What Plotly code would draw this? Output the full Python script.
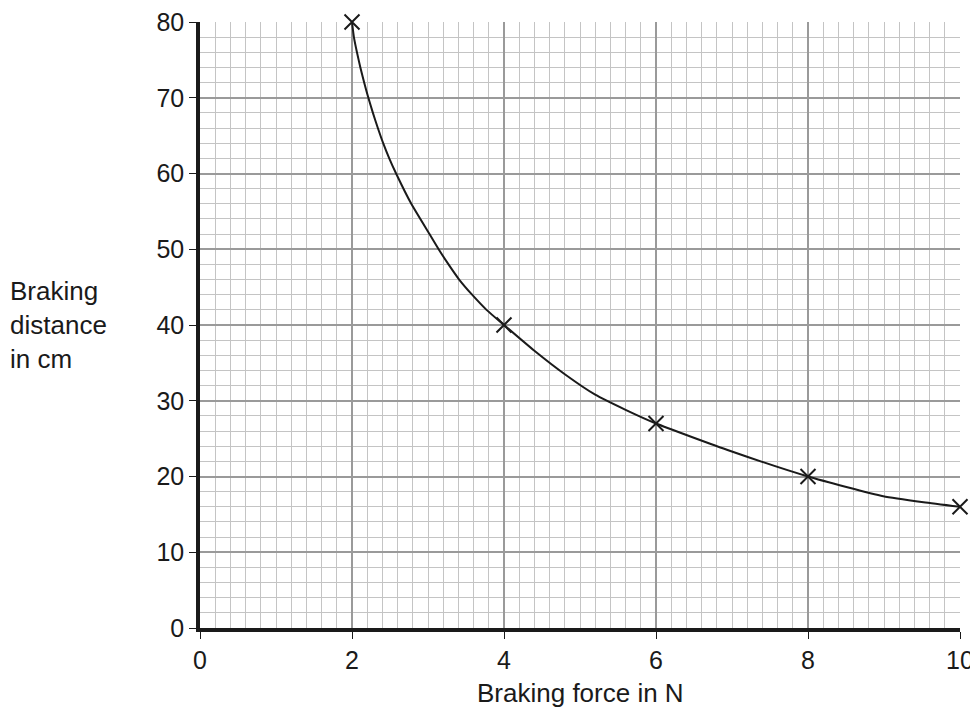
import plotly.graph_objects as go

# Measured points (crosses)
force_pts = [2, 4, 6, 8, 10]
dist_pts = [80, 40, 27, 20, 16]

# Points
curve_force = [2, 2.025, 2.065, 2.11, 2.16, 2.215, 2.275, 2.34, 2.41, 2.49, 2.58, 2.78, 3.02, 3.14,
               3.27, 3.41, 3.58, 3.77, 4, 4.4, 4.8, 5.2, 5.6, 6, 6.97, 8, 8.99, 9.52, 10]
curve_dist = [80, 78, 76, 74, 72, 70, 68, 66, 64, 62, 60, 56, 52, 50,
              48, 46, 44, 42, 40, 36.6, 33.5, 30.8, 28.8, 27, 23.4, 20, 17.4, 16.6, 16]

x_ticks = [0, 2, 4, 6, 8, 10]
y_ticks = [0, 10, 20, 30, 40, 50, 60, 70, 80]

FONT = "Liberation Sans, Arial, sans-serif"
INK = "#1a1a1a"

fig = go.Figure()
fig.add_trace(go.Scatter(
    x=curve_force, y=curve_dist, mode="lines",
    line=dict(color=INK, width=2, shape="spline", smoothing=0.5),
    hoverinfo="skip", showlegend=False, cliponaxis=False,
))
fig.add_trace(go.Scatter(
    x=force_pts, y=dist_pts, mode="markers",
    marker=dict(symbol="x-thin", size=15, line=dict(color=INK, width=2)),
    showlegend=False, cliponaxis=False,
))

axis_common = dict(
    showgrid=True, gridcolor="#9a9a9a", gridwidth=2.2,
    zeroline=False, showline=True, linecolor=INK, linewidth=3.5,
    ticks="outside", ticklen=7, tickwidth=1.2, tickcolor=INK,
    tickfont=dict(family=FONT, size=25, color=INK),
    ticklabeloverflow="allow",
    layer="below traces", automargin=False,
)

fig.update_layout(
    width=970, height=706,
    margin=dict(l=192, r=18, t=14, b=86, autoexpand=False),
    paper_bgcolor="white", plot_bgcolor="white",
    font=dict(family=FONT, color=INK),
    xaxis=dict(
        range=[0, 10], tickvals=x_ticks, ticktext=[str(v) for v in x_ticks],
        minor=dict(dtick=0.2, tick0=0, showgrid=True, gridcolor="#c4c4c4", gridwidth=1.4, ticks=""),
        **axis_common,
    ),
    yaxis=dict(
        range=[0, 80], tickvals=y_ticks, ticktext=[str(v) for v in y_ticks],
        minor=dict(dtick=2, tick0=0, showgrid=True, gridcolor="#c4c4c4", gridwidth=1.4, ticks=""),
        **axis_common,
    ),
    annotations=[
        dict(text="Braking<br>distance<br>in cm", xref="paper", yref="paper",
             x=-0.2526, y=0.5, xanchor="left", yanchor="middle", align="left",
             showarrow=False, font=dict(family=FONT, size=26, color=INK)),
        dict(text="Braking force in N", xref="paper", yref="paper",
             x=0.5, y=-0.1072, xanchor="center", yanchor="middle",
             showarrow=False, font=dict(family=FONT, size=26, color=INK)),
    ],
)

fig.write_html("out.html")
